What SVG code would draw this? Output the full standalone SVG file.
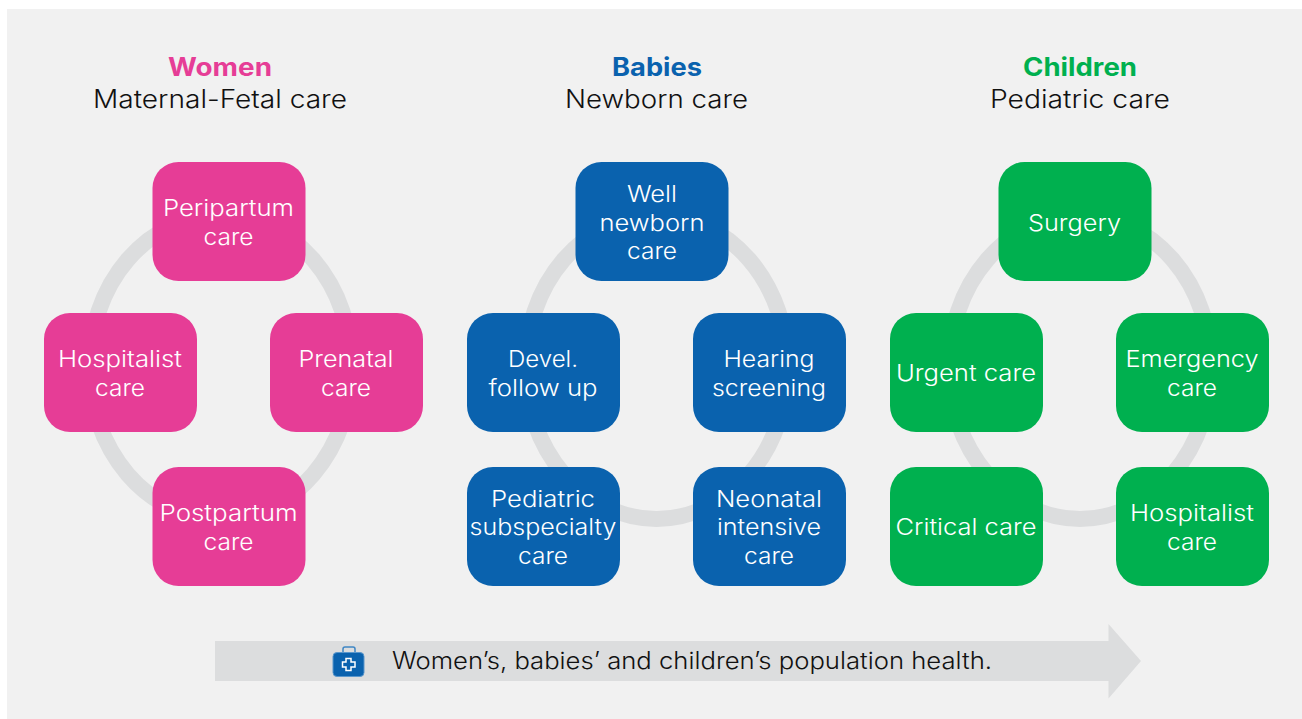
<svg xmlns="http://www.w3.org/2000/svg" width="1302" height="719" viewBox="0 0 1302 719">
<style>
text{font-family:"Inter","Liberation Sans",sans-serif;text-anchor:middle}
.h{font-size:25px;font-weight:700}
.s{font-size:25px;fill:#111;font-weight:300}
.l{font-size:22.5px;fill:#fff;font-weight:300}
.n rect{rx:26px;ry:26px;width:153px;height:119px}
.w rect{fill:#e63d96}.b rect{fill:#0a62ae}.c rect{fill:#00b04f}
.ring{fill:none;stroke:#dcddde;stroke-width:16}
</style>
<rect x="7" y="9" width="1295" height="710" fill="#f1f1f1"/>
<g id="connectors">
<ellipse class="ring" cx="220.500" cy="367" rx="131" ry="152"/>
<ellipse class="ring" cx="656.500" cy="367" rx="131" ry="152"/>
<ellipse class="ring" cx="1080" cy="367" rx="131" ry="152"/>
</g>
<g id="heading-women"><text class="h" x="220" y="76" fill="#e63d96" textLength="104" lengthAdjust="spacingAndGlyphs">Women</text><text class="s" x="220" y="108" textLength="254" lengthAdjust="spacingAndGlyphs">Maternal-Fetal care</text></g>
<g id="heading-babies"><text class="h" x="657" y="76" fill="#0a62ae" textLength="90" lengthAdjust="spacingAndGlyphs">Babies</text><text class="s" x="656.500" y="108" textLength="183" lengthAdjust="spacingAndGlyphs">Newborn care</text></g>
<g id="heading-children"><text class="h" x="1080" y="76" fill="#00b04f" textLength="114" lengthAdjust="spacingAndGlyphs">Children</text><text class="s" x="1080" y="108" textLength="180" lengthAdjust="spacingAndGlyphs">Pediatric care</text></g>
<g id="w1" class="n w"><rect x="152.500" y="162"/><text class="l" x="228.500" y="216" textLength="131" lengthAdjust="spacingAndGlyphs">Peripartum</text><text class="l" x="228.500" y="245" textLength="50" lengthAdjust="spacingAndGlyphs">care</text></g>
<g id="w2" class="n w"><rect x="44" y="313"/><text class="l" x="120" y="367" textLength="124" lengthAdjust="spacingAndGlyphs">Hospitalist</text><text class="l" x="120" y="396" textLength="50" lengthAdjust="spacingAndGlyphs">care</text></g>
<g id="w3" class="n w"><rect x="270" y="313"/><text class="l" x="346" y="367" textLength="95" lengthAdjust="spacingAndGlyphs">Prenatal</text><text class="l" x="346" y="396" textLength="50" lengthAdjust="spacingAndGlyphs">care</text></g>
<g id="w4" class="n w"><rect x="152.500" y="467"/><text class="l" x="228.500" y="521" textLength="138" lengthAdjust="spacingAndGlyphs">Postpartum</text><text class="l" x="228.500" y="550" textLength="50" lengthAdjust="spacingAndGlyphs">care</text></g>
<g id="b1" class="n b"><rect x="575.500" y="162"/><text class="l" x="652" y="202" textLength="50" lengthAdjust="spacingAndGlyphs">Well</text><text class="l" x="652" y="231" textLength="105" lengthAdjust="spacingAndGlyphs">newborn</text><text class="l" x="652" y="259" textLength="50" lengthAdjust="spacingAndGlyphs">care</text></g>
<g id="b2" class="n b"><rect x="467" y="313"/><text class="l" x="543" y="367" textLength="70" lengthAdjust="spacingAndGlyphs">Devel.</text><text class="l" x="543" y="396" textLength="109" lengthAdjust="spacingAndGlyphs">follow up</text></g>
<g id="b3" class="n b"><rect x="693" y="313"/><text class="l" x="769" y="367" textLength="91" lengthAdjust="spacingAndGlyphs">Hearing</text><text class="l" x="769" y="396" textLength="114" lengthAdjust="spacingAndGlyphs">screening</text></g>
<g id="b4" class="n b"><rect x="467" y="467"/><text class="l" x="543" y="507" textLength="104" lengthAdjust="spacingAndGlyphs">Pediatric</text><text class="l" x="543" y="535" textLength="147" lengthAdjust="spacingAndGlyphs">subspecialty</text><text class="l" x="543" y="564" textLength="50" lengthAdjust="spacingAndGlyphs">care</text></g>
<g id="b5" class="n b"><rect x="693" y="467"/><text class="l" x="769" y="507" textLength="106" lengthAdjust="spacingAndGlyphs">Neonatal</text><text class="l" x="769" y="535" textLength="104" lengthAdjust="spacingAndGlyphs">intensive</text><text class="l" x="769" y="564" textLength="50" lengthAdjust="spacingAndGlyphs">care</text></g>
<g id="c1" class="n c"><rect x="998.500" y="162"/><text class="l" x="1074.500" y="231" textLength="93" lengthAdjust="spacingAndGlyphs">Surgery</text></g>
<g id="c2" class="n c"><rect x="890" y="313"/><text class="l" x="966" y="381" textLength="140" lengthAdjust="spacingAndGlyphs">Urgent care</text></g>
<g id="c3" class="n c"><rect x="1116" y="313"/><text class="l" x="1192" y="367" textLength="133" lengthAdjust="spacingAndGlyphs">Emergency</text><text class="l" x="1192" y="396" textLength="50" lengthAdjust="spacingAndGlyphs">care</text></g>
<g id="c4" class="n c"><rect x="890" y="467"/><text class="l" x="966" y="535" textLength="141" lengthAdjust="spacingAndGlyphs">Critical care</text></g>
<g id="c5" class="n c"><rect x="1116" y="467"/><text class="l" x="1192" y="521" textLength="124" lengthAdjust="spacingAndGlyphs">Hospitalist</text><text class="l" x="1192" y="550" textLength="50" lengthAdjust="spacingAndGlyphs">care</text></g>
<g id="population">
<path d="M215 641H1108.500V624L1141 661L1108.500 698.500V681H215Z" fill="#dcddde"/>
<g id="icon"><path d="M343 652V649Q343 647 345 647H353Q355 647 355 649V652" fill="none" stroke="#3f86c4" stroke-width="1.500"/>
<rect x="333" y="652.500" width="31" height="24" rx="4" fill="#0a62ae" stroke="#5a97cc" stroke-width="1"/>
<path d="M346 658.500H351V662H355V667H351V670.500H346V667H342.500V662H346Z" fill="#0a62ae" stroke="#fff" stroke-width="1.500"/></g>
<text x="392" y="669" textLength="600" lengthAdjust="spacingAndGlyphs" style="font-size:23.500px;text-anchor:start;fill:#111;font-weight:300">Women’s, babies’ and children’s population health.</text>
</g>
</svg>
